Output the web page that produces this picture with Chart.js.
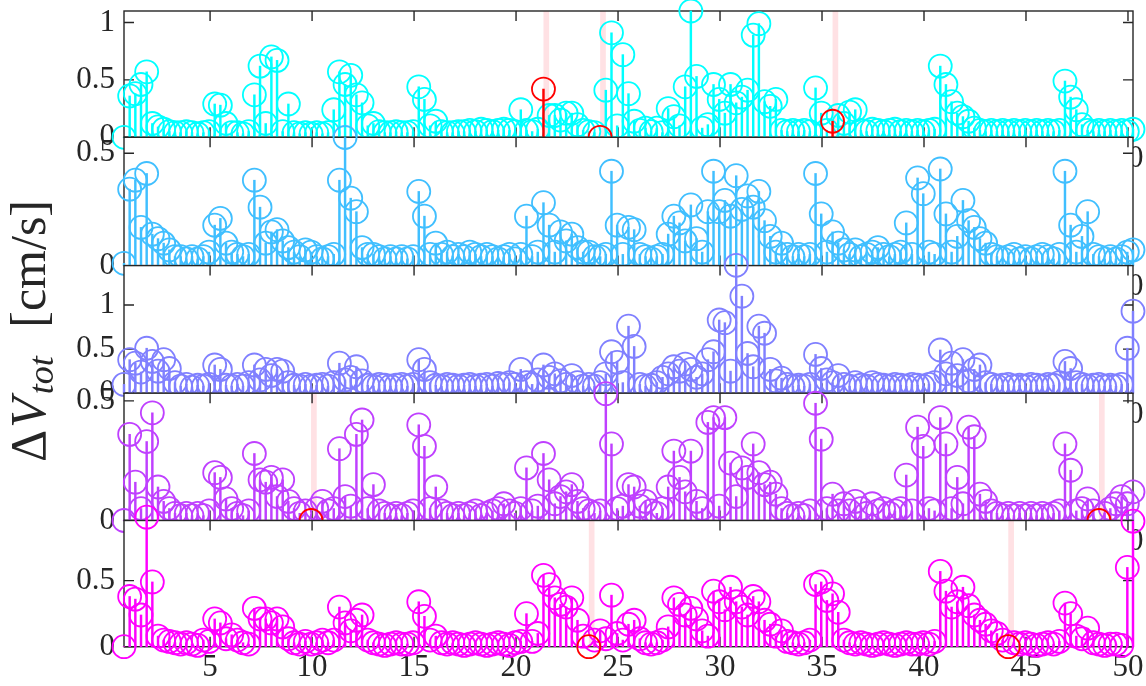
<!DOCTYPE html>
<html>
<head>
<meta charset="utf-8">
<script src="https://cdn.jsdelivr.net/npm/chart.js@4/dist/chart.umd.min.js"></script>
<style>
html,body{margin:0;padding:0;background:#fff;}
#wrap{position:relative;width:1146px;height:686px;overflow:hidden;background:#fff;}
#wrap canvas{position:absolute;left:0;top:0;}
</style>
</head>
<body>
<div id="wrap">
<canvas id="c1" width="1146" height="686"></canvas>
<canvas id="c2" width="1146" height="686"></canvas>
<canvas id="c3" width="1146" height="686"></canvas>
<canvas id="c4" width="1146" height="686"></canvas>
<canvas id="c5" width="1146" height="686"></canvas>
</div>
<script>
// ---- sample grid (uniform time axis) ----
const tStart = 0.78;
const tStep = 0.2779;

// ---- tick labels ----
const xTicks = [5, 10, 15, 20, 25, 30, 35, 40, 45, 50];
const yTicks1 = [0, 0.5, 1];
const yTicks2 = [0, 0.5];
const yTicks3 = [0, 0.5, 1];
const yTicks4 = [0, 0.5];
const yTicks5 = [0, 0.5];

// ---- axis upper limits ----
const yMax1 = 1.1, yMax2 = 0.571, yMax3 = 1.447, yMax4 = 0.532, yMax5 = 0.955;

// ---- series values (ΔV_tot, cm/s) ----
const panel1 = [
0.00,0.36,0.38,0.46,0.57,0.12,0.09,0.07,0.05,0.04,
0.04,0.05,0.04,0.03,0.04,0.05,0.29,0.28,0.12,0.04,
0.04,0.03,0.05,0.37,0.62,0.12,0.70,0.67,0.05,0.29,
0.04,0.03,0.04,0.03,0.04,0.03,0.04,0.24,0.57,0.46,
0.54,0.37,0.30,0.10,0.12,0.05,0.04,0.04,0.05,0.04,
0.04,0.05,0.44,0.33,0.10,0.14,0.05,0.04,0.04,0.05,
0.05,0.06,0.05,0.07,0.06,0.05,0.06,0.07,0.06,0.05,
0.24,0.06,0.05,0.07,0.42,0.19,0.19,0.15,0.21,0.21,
0.11,0.06,0.05,0.04,0.00,0.41,0.91,0.10,0.72,0.38,
0.14,0.06,0.08,0.05,0.08,0.04,0.25,0.18,0.10,0.44,
1.10,0.53,0.08,0.11,0.46,0.33,0.21,0.46,0.30,0.35,
0.41,0.89,0.99,0.31,0.27,0.33,0.06,0.05,0.06,0.05,
0.06,0.05,0.43,0.21,0.06,0.14,0.19,0.12,0.22,0.24,
0.06,0.05,0.07,0.06,0.05,0.06,0.07,0.05,0.06,0.05,
0.06,0.05,0.06,0.07,0.62,0.46,0.31,0.21,0.18,0.14,
0.08,0.06,0.05,0.06,0.05,0.06,0.05,0.06,0.05,0.06,
0.05,0.06,0.05,0.06,0.05,0.06,0.49,0.35,0.24,0.11,
0.06,0.05,0.06,0.05,0.06,0.05,0.06,0.05,0.07
];
const panel2 = [
0.01,0.34,0.38,0.17,0.41,0.14,0.12,0.10,0.07,0.04,
0.04,0.03,0.04,0.03,0.04,0.06,0.18,0.21,0.10,0.06,
0.05,0.04,0.05,0.38,0.26,0.10,0.15,0.16,0.11,0.08,
0.06,0.04,0.07,0.06,0.04,0.03,0.04,0.05,0.38,0.57,
0.30,0.24,0.08,0.05,0.05,0.04,0.03,0.04,0.03,0.04,
0.03,0.04,0.33,0.22,0.05,0.10,0.05,0.06,0.04,0.05,
0.04,0.06,0.05,0.04,0.05,0.04,0.03,0.04,0.05,0.03,
0.05,0.22,0.04,0.06,0.28,0.18,0.06,0.15,0.11,0.14,
0.08,0.06,0.06,0.04,0.04,0.05,0.42,0.18,0.05,0.17,
0.16,0.05,0.04,0.03,0.04,0.05,0.14,0.22,0.19,0.11,
0.27,0.12,0.06,0.24,0.42,0.24,0.29,0.22,0.40,0.25,
0.31,0.26,0.33,0.20,0.13,0.06,0.10,0.05,0.04,0.05,
0.04,0.05,0.41,0.23,0.06,0.15,0.10,0.07,0.05,0.07,
0.04,0.05,0.06,0.08,0.05,0.04,0.05,0.06,0.19,0.05,
0.39,0.32,0.06,0.05,0.43,0.23,0.06,0.13,0.29,0.20,
0.17,0.12,0.10,0.05,0.04,0.03,0.04,0.05,0.03,0.04,
0.03,0.04,0.05,0.04,0.03,0.05,0.42,0.18,0.06,0.13,
0.24,0.05,0.04,0.03,0.04,0.03,0.04,0.06,0.07
];
const panel3 = [
0.10,0.38,0.34,0.24,0.51,0.36,0.25,0.38,0.28,0.12,
0.08,0.10,0.07,0.09,0.08,0.10,0.32,0.27,0.09,0.08,
0.10,0.08,0.12,0.32,0.15,0.27,0.20,0.27,0.25,0.12,
0.09,0.08,0.10,0.08,0.09,0.10,0.08,0.12,0.34,0.15,
0.18,0.30,0.14,0.09,0.08,0.10,0.09,0.08,0.09,0.10,
0.08,0.10,0.38,0.27,0.12,0.09,0.08,0.10,0.09,0.08,
0.09,0.10,0.08,0.09,0.10,0.08,0.11,0.10,0.12,0.10,
0.27,0.12,0.10,0.15,0.32,0.18,0.22,0.14,0.10,0.20,
0.12,0.08,0.10,0.08,0.12,0.22,0.47,0.35,0.12,0.76,
0.53,0.10,0.08,0.09,0.12,0.18,0.22,0.30,0.25,0.33,
0.27,0.18,0.22,0.38,0.47,0.83,0.80,0.25,1.45,1.10,
0.45,0.30,0.76,0.68,0.27,0.14,0.17,0.10,0.08,0.09,
0.08,0.10,0.44,0.28,0.15,0.12,0.20,0.10,0.08,0.12,
0.09,0.08,0.12,0.10,0.09,0.08,0.10,0.09,0.08,0.10,
0.09,0.08,0.10,0.12,0.49,0.22,0.34,0.20,0.38,0.14,
0.27,0.32,0.12,0.10,0.08,0.09,0.10,0.08,0.09,0.08,
0.10,0.09,0.08,0.10,0.09,0.12,0.36,0.28,0.12,0.10,
0.08,0.09,0.10,0.08,0.09,0.08,0.10,0.51,0.93
];
const panel4 = [
0.00,0.36,0.16,0.05,0.33,0.45,0.14,0.08,0.05,0.03,
0.02,0.03,0.02,0.03,0.02,0.04,0.20,0.18,0.09,0.05,
0.03,0.02,0.04,0.28,0.17,0.16,0.18,0.10,0.17,0.08,
0.05,0.03,0.04,0.00,0.05,0.08,0.04,0.05,0.30,0.10,
0.06,0.36,0.42,0.05,0.15,0.04,0.03,0.02,0.03,0.02,
0.03,0.04,0.40,0.31,0.05,0.14,0.04,0.03,0.02,0.03,
0.02,0.03,0.04,0.02,0.03,0.04,0.05,0.07,0.04,0.03,
0.05,0.22,0.04,0.06,0.28,0.17,0.07,0.10,0.12,0.15,
0.08,0.05,0.04,0.03,0.04,0.53,0.32,0.05,0.06,0.15,
0.14,0.06,0.08,0.04,0.03,0.05,0.14,0.29,0.18,0.12,
0.29,0.08,0.05,0.41,0.43,0.06,0.43,0.24,0.10,0.22,
0.18,0.32,0.20,0.15,0.16,0.11,0.05,0.03,0.02,0.03,
0.02,0.04,0.49,0.34,0.05,0.11,0.04,0.07,0.04,0.08,
0.05,0.03,0.07,0.04,0.05,0.03,0.04,0.05,0.19,0.04,
0.39,0.31,0.05,0.04,0.43,0.32,0.05,0.18,0.07,0.39,
0.35,0.11,0.08,0.04,0.03,0.02,0.03,0.02,0.03,0.02,
0.03,0.02,0.03,0.02,0.03,0.04,0.32,0.21,0.04,0.05,
0.09,0.04,0.00,0.03,0.05,0.07,0.10,0.07,0.12
];
const panel5 = [
0.00,0.38,0.36,0.24,0.98,0.49,0.08,0.05,0.04,0.03,
0.02,0.03,0.02,0.01,0.05,0.04,0.21,0.18,0.06,0.09,
0.05,0.03,0.02,0.29,0.21,0.21,0.18,0.21,0.15,0.06,
0.03,0.02,0.04,0.02,0.03,0.05,0.03,0.05,0.30,0.18,
0.12,0.20,0.24,0.05,0.03,0.02,0.01,0.02,0.03,0.02,
0.02,0.03,0.34,0.23,0.05,0.08,0.03,0.02,0.03,0.02,
0.01,0.02,0.03,0.02,0.01,0.02,0.03,0.02,0.01,0.03,
0.04,0.25,0.04,0.10,0.54,0.47,0.37,0.32,0.30,0.37,
0.20,0.08,0.00,0.05,0.12,0.06,0.39,0.10,0.05,0.17,
0.20,0.06,0.03,0.02,0.03,0.05,0.15,0.37,0.32,0.24,
0.29,0.21,0.12,0.08,0.42,0.34,0.28,0.45,0.34,0.30,
0.24,0.38,0.34,0.20,0.17,0.08,0.12,0.04,0.03,0.02,
0.03,0.05,0.47,0.49,0.35,0.40,0.26,0.05,0.03,0.02,
0.03,0.02,0.01,0.02,0.03,0.02,0.01,0.02,0.03,0.02,
0.02,0.03,0.02,0.04,0.57,0.42,0.30,0.34,0.45,0.31,
0.24,0.20,0.17,0.12,0.10,0.05,0.00,0.03,0.02,0.03,
0.02,0.01,0.02,0.03,0.02,0.04,0.33,0.25,0.08,0.06,
0.14,0.03,0.02,0.01,0.02,0.02,0.01,0.60,0.95
];

// ---- highlighted (red) sample indices per panel ----
const flags1 = [74, 84, 125];
const flags2 = [];
const flags3 = [];
const flags4 = [33, 172];
const flags5 = [82, 156];

const times = panel1.map((_, i) => tStart + i * tStep);

const AXIS_COLOR = '#262626';
const FONT = '"Liberation Serif", "Times New Roman", serif';

const decorPlugin = {
  id: 'decor',
  beforeDraw(chart) {
    const {ctx, chartArea: a} = chart;
    ctx.save();
    ctx.fillStyle = '#ffffff';
    ctx.fillRect(a.left, a.top, a.right - a.left, a.bottom - a.top);
    ctx.restore();
  },
  beforeDatasetsDraw(chart, args, opts) {
    const {ctx, chartArea: a} = chart;
    const xs = chart.scales.x, ys = chart.scales.y;
    ctx.save();
    ctx.fillStyle = '#FFE1E4';
    (opts.flags || []).forEach(i => {
      const x0 = xs.getPixelForValue(times[i]);
      const x1 = xs.getPixelForValue(times[Math.min(i + 1, times.length - 1)]);
      ctx.fillRect(x0, a.top, Math.max(x1 - x0, 3), a.bottom - a.top);
    });
    ctx.strokeStyle = AXIS_COLOR;
    ctx.lineWidth = 1.4;
    ctx.strokeRect(a.left, a.top, a.right - a.left, a.bottom - a.top);
    const L = 10;
    ctx.beginPath();
    xs.ticks.forEach(t => {
      const p = xs.getPixelForValue(t.value);
      ctx.moveTo(p, a.bottom); ctx.lineTo(p, a.bottom - L);
      ctx.moveTo(p, a.top); ctx.lineTo(p, a.top + L);
    });
    ys.ticks.forEach(t => {
      const p = ys.getPixelForValue(t.value);
      ctx.moveTo(a.left, p); ctx.lineTo(a.left + L, p);
      ctx.moveTo(a.right, p); ctx.lineTo(a.right - L, p);
    });
    ctx.stroke();
    ctx.restore();
  }
};

const yLabelPlugin = {
  id: 'ylabel',
  afterDraw(chart, args, opts) {
    if (!opts.show) return;
    const ctx = chart.ctx;
    const cy = 331;
    ctx.save();
    ctx.translate(45, cy);
    ctx.rotate(-Math.PI / 2);
    ctx.fillStyle = AXIS_COLOR;
    ctx.textBaseline = 'alphabetic';
    ctx.textAlign = 'left';
    let x = -131;
    const parts = [
      {t: 'Δ', f: '50px ' + FONT, dy: 0, gap: 2},
      {t: 'V', f: 'italic 50px ' + FONT, dy: 0, gap: 3},
      {t: 'tot', f: 'italic 36px ' + FONT, dy: 8, gap: 0}
    ];
    parts.forEach(p => {
      ctx.font = p.f;
      ctx.fillText(p.t, x, p.dy);
      x += ctx.measureText(p.t).width + p.gap;
    });
    ctx.font = '50px ' + FONT;
    ctx.textAlign = 'right';
    ctx.fillText('[cm/s]', 131, 0);
    ctx.restore();
  }
};

function makePanel(id, values, yTicks, yMax, flags, color, top, bottom, showLabel) {
  const pts = values.map((v, i) => ({x: times[i], y: v}));
  const normal = pts.filter((p, i) => !flags.includes(i));
  const red = flags.map(i => pts[i]);
  const stemW = 1.8, rad = 11.5, mw = 1.8;
  new Chart(document.getElementById(id), {
    type: 'scatter',
    data: {
      datasets: [
        {type: 'scatter', data: red, showLine: false, pointRadius: rad, pointBorderWidth: mw,
         pointBorderColor: '#FF0000', pointBackgroundColor: 'rgba(0,0,0,0)', order: 0, clip: false},
        {type: 'bar', data: red, backgroundColor: '#FF0000', barThickness: stemW, grouped: false,
         borderWidth: 0, order: 1, clip: false},
        {type: 'scatter', data: normal, showLine: false, pointRadius: rad, pointBorderWidth: mw,
         pointBorderColor: color, pointBackgroundColor: 'rgba(0,0,0,0)', order: 2, clip: false},
        {type: 'bar', data: normal, backgroundColor: color, barThickness: stemW, grouped: false,
         borderWidth: 0, order: 3, clip: false}
      ]
    },
    options: {
      responsive: false,
      animation: false,
      devicePixelRatio: 1,
      events: [],
      layout: {autoPadding: false, padding: {top: top, bottom: 686 - bottom - 40, left: 0, right: 13}},
      plugins: {
        legend: {display: false},
        tooltip: {enabled: false},
        decor: {flags: flags},
        ylabel: {show: showLabel}
      },
      scales: {
        x: {
          type: 'linear', min: times[0], max: times[times.length - 1], offset: false,
          grid: {display: false, drawTicks: false, offset: false},
          border: {display: false},
          ticks: {autoSkip: false, maxRotation: 0, padding: 3, color: AXIS_COLOR,
                  font: {family: FONT, size: 31}, callback: v => String(v)},
          afterBuildTicks: s => { s.ticks = xTicks.map(v => ({value: v})); },
          afterFit: s => { s.height = 40; s.paddingLeft = 0; s.paddingRight = 0; }
        },
        y: {
          type: 'linear', min: 0, max: yMax,
          grid: {display: false, drawTicks: false},
          border: {display: false},
          ticks: {autoSkip: false, padding: 9, color: AXIS_COLOR,
                  font: {family: FONT, size: 31}, callback: v => String(v)},
          afterBuildTicks: s => { s.ticks = yTicks.map(v => ({value: v})); },
          afterFit: s => { s.width = 124; s.paddingTop = 0; s.paddingBottom = 0; }
        }
      }
    },
    plugins: [decorPlugin, yLabelPlugin]
  });
}

makePanel('c1', panel1, yTicks1, yMax1, flags1, '#00FFFF', 11, 137.3, false);
makePanel('c2', panel2, yTicks2, yMax2, flags2, '#40BFFF', 137.3, 265.6, false);
makePanel('c3', panel3, yTicks3, yMax3, flags3, '#8080FF', 265.6, 393.2, true);
makePanel('c4', panel4, yTicks4, yMax4, flags4, '#BF40FF', 393.2, 520.5, false);
makePanel('c5', panel5, yTicks5, yMax5, flags5, '#FF00FF', 520.5, 646.7, false);
</script>
</body>
</html>
